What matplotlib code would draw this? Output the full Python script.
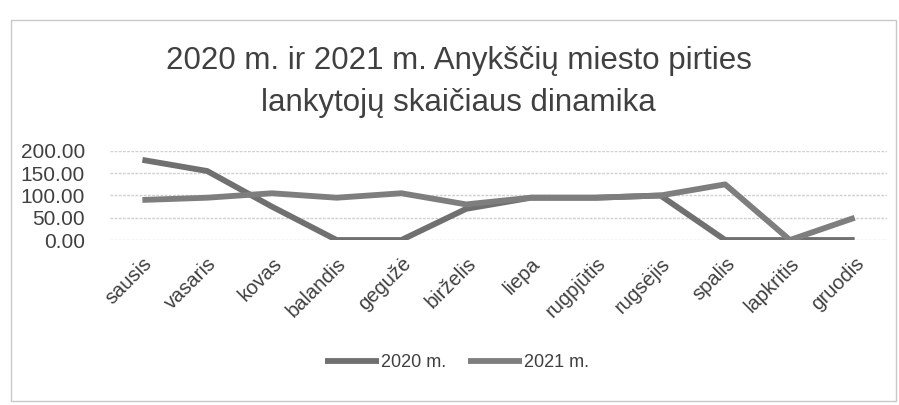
import numpy as np
import matplotlib.pyplot as plt

months = ['sausis', 'vasaris', 'kovas', 'balandis', 'gegužė', 'birželis',
          'liepa', 'rugpjūtis', 'rugsėjis', 'spalis', 'lapkritis', 'gruodis']
visitors_2020 = [180, 155, 75, 0, 0, 70, 95, 95, 100, 0, 0, 0]
visitors_2021 = [90, 95, 105, 95, 105, 80, 95, 95, 100, 125, 0, 50]
yticks = [0, 50, 100, 150, 200]

plt.rcParams['font.family'] = ['Liberation Sans', 'DejaVu Sans']
txt = '#404040'

fig = plt.figure(figsize=(8.99, 4.05), dpi=100)
ax = fig.add_axes([0.1224, 0.4074, 0.8643, 0.2198])

x = np.arange(len(months))
ax.plot(x, visitors_2020, color='#707070', lw=4.2, label='2020 m.', solid_capstyle='butt')
ax.plot(x, visitors_2021, color='#7e7e7e', lw=4.2, label='2021 m.', solid_capstyle='butt')

ax.set_xlim(-0.5, len(months) - 0.5)
ax.set_ylim(0, 200)
ax.set_yticks(yticks)
ax.set_yticklabels([f'{v:.2f}' for v in yticks], fontsize=15, color=txt)
ax.set_xticks(x)
ax.set_xticklabels(months, rotation=45, ha='right', rotation_mode='anchor',
                   fontsize=14.5, color=txt)
ax.tick_params(axis='y', length=0, pad=18)
ax.tick_params(axis='x', length=0, pad=10)
ax.grid(axis='y', color='#d0d0d0', lw=1, ls=(0, (2, 1)))
ax.set_axisbelow(True)
for s in ax.spines.values():
    s.set_visible(False)

fig.text(0.51, 0.85, '2020 m. ir 2021 m. Anykščių miesto pirties',
         ha='center', va='center', fontsize=22.5, color=txt)
fig.text(0.51, 0.745, 'lankytojų skaičiaus dinamika',
         ha='center', va='center', fontsize=22.5, color=txt)

fig.legend(loc='center', bbox_to_anchor=(0.508, 0.104), ncol=2, frameon=False,
           fontsize=13, handlelength=3.0, handletextpad=0.1, columnspacing=1.2,
           labelcolor=txt)

fig.patches.append(plt.Rectangle((0.012, 0.01), 0.985, 0.94, transform=fig.transFigure,
                                 fill=False, ec='#c8c8c8', lw=1))
fig.savefig('out.png', dpi=100)
